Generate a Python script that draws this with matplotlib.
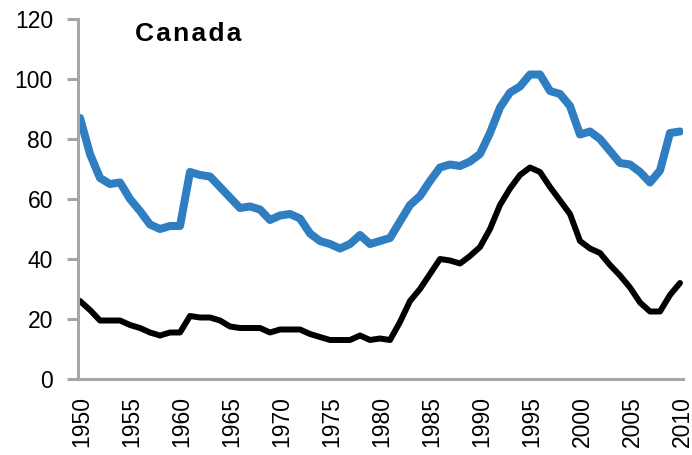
import numpy as np
import matplotlib
matplotlib.use("Agg")
import matplotlib.pyplot as plt
import matplotlib.transforms as mtransforms

plt.rcParams['font.family'] = ['Liberation Sans', 'DejaVu Sans']

years = list(range(1950, 2011))

serie_azul = [87, 75, 67, 65, 65.5, 60, 56, 51.5, 50, 51,
              51, 69, 68, 67.5, 64, 60.5, 57, 57.5, 56.5, 53,
              54.5, 55, 53.5, 48.5, 46, 45, 43.5, 45, 48, 45,
              46, 47, 52.5, 58, 61, 66, 70.5, 71.5, 71, 72.5,
              75, 82, 90.5, 95.5, 97.5, 101.5, 101.5, 96, 95, 91,
              81.5, 82.5, 80, 76, 72, 71.5, 69, 65.5, 69.5, 82,
              82.5]

serie_negra = [26, 23, 19.5, 19.5, 19.5, 18, 17, 15.5, 14.5, 15.5,
               15.5, 21, 20.5, 20.5, 19.5, 17.5, 17, 17, 17, 15.5,
               16.5, 16.5, 16.5, 15, 14, 13, 13, 13, 14.5, 13,
               13.5, 13, 19, 26, 30, 35, 40, 39.5, 38.5, 41,
               44, 50, 58, 63.5, 68, 70.5, 69, 64, 59.5, 55,
               46, 43.5, 42, 38, 34.5, 30.5, 25.5, 22.5, 22.5, 28,
               32]

fig = plt.figure(figsize=(6.92, 4.55), dpi=100)
ax = fig.add_axes([78/692, 1 - 379/455, (683 - 78)/692, (379 - 19)/455])

ax.plot(years, serie_azul, color='#2E7EC1', linewidth=5.8, solid_joinstyle='round', solid_capstyle='round')
ax.plot(years, serie_negra, color='black', linewidth=4.3, solid_joinstyle='round', solid_capstyle='round')

ax.set_xlim(1949.8, 2010.3)
ax.set_ylim(0, 120)
ax.set_yticks(np.arange(0, 121, 20))
ax.set_xticks(np.arange(1950, 2011, 5))
ax.set_xticklabels([str(a) for a in range(1950, 2011, 5)], rotation=90)

for lado in ['top', 'right']:
    ax.spines[lado].set_visible(False)
for lado in ['left', 'bottom']:
    ax.spines[lado].set_color('#A6A6A6')
    ax.spines[lado].set_linewidth(2.2)

ax.tick_params(axis='y', direction='out', length=8, width=2.2, color='#A6A6A6',
               labelsize=16.5, pad=10)
ax.tick_params(axis='x', length=0, labelsize=16.5, pad=12)

# desplazar un poco las etiquetas del eje x a la derecha
desplazamiento = mtransforms.ScaledTranslation(2/100, 0, fig.dpi_scale_trans)
for etiqueta in ax.get_xticklabels():
    etiqueta.set_transform(etiqueta.get_transform() + desplazamiento)

titulo = '\u200a'.join('Canada')
fig.text(188/692, 1 - 34/455, titulo, fontsize=19,
         fontweight='bold', ha='center', va='center')

fig.savefig('out.png', dpi=100)
